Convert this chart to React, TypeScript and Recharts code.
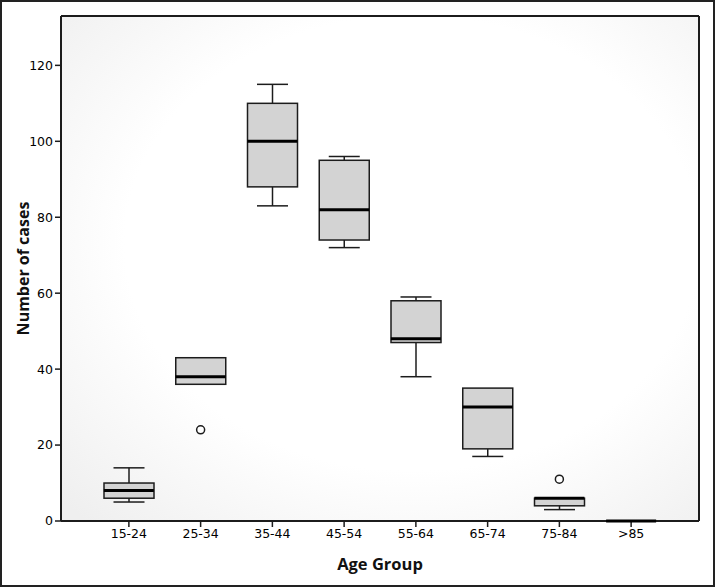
import React from "react";
import {
  ComposedChart,
  Bar,
  Scatter,
  XAxis,
  YAxis,
  CartesianGrid,
} from "recharts";

// age groups and the five-number summary for each
const categories = ["15-24", "25-34", "35-44", "45-54", "55-64", "65-74", "75-84", ">85"];
const minVals = [5, 36, 83, 72, 38, 17, 3, 0];
const q1Vals = [6, 36, 88, 74, 47, 19, 4, 0];
const medianVals = [8, 38, 100, 82, 48, 30, 6, 0];
const q3Vals = [10, 43, 110, 95, 58, 35, 6, 0];
const maxVals = [14, 43, 115, 96, 59, 35, 6, 0];
const outlierVals: (number | null)[] = [null, 24, null, null, null, null, 11, null];
const yTicks = [0, 20, 40, 60, 80, 100, 120];

const data = categories.map((cat, i) => ({
  cat,
  min: minVals[i],
  q1: q1Vals[i],
  median: medianVals[i],
  q3: q3Vals[i],
  max: maxVals[i],
  range: [minVals[i], maxVals[i]],
  outlier: outlierVals[i],
}));

const BOX_W = 50;
const CAP_W = 31;
const INK = "#1c1c1c";
const tickStyle = { fill: "#000", fontSize: 12.5, fontFamily: "DejaVu Sans" };

// whiskers + box, drawn from the [min, max] range bar
const BoxShape = (props: any) => {
  const { x, y, width, height, payload } = props;
  if (x == null || y == null || !payload) return <g />;
  const cx = x + width / 2;
  const span = payload.max - payload.min;
  const toPx = (v: number) => (span > 0 ? y + ((payload.max - v) / span) * height : y);
  const yMax = y;
  const yMin = y + height;
  const yQ3 = toPx(payload.q3);
  const yQ1 = toPx(payload.q1);
  return (
    <g>
      {payload.max > payload.q3 && (
        <g stroke={INK} strokeWidth={1.5}>
          <line x1={cx} x2={cx} y1={yMax} y2={yQ3} />
          <line x1={cx - CAP_W / 2} x2={cx + CAP_W / 2} y1={yMax} y2={yMax} />
        </g>
      )}
      {payload.min < payload.q1 && (
        <g stroke={INK} strokeWidth={1.5}>
          <line x1={cx} x2={cx} y1={yQ1} y2={yMin} />
          <line x1={cx - CAP_W / 2} x2={cx + CAP_W / 2} y1={yMin} y2={yMin} />
        </g>
      )}
      <rect
        x={cx - BOX_W / 2}
        y={yQ3}
        width={BOX_W}
        height={Math.max(yQ1 - yQ3, 0)}
        fill="#d3d3d3"
        stroke={INK}
        strokeWidth={1.5}
      />
    </g>
  );
};

const MedianShape = (props: any) => {
  const { cx, cy } = props;
  if (cx == null || cy == null || isNaN(cy)) return <g />;
  return <line x1={cx - BOX_W / 2} x2={cx + BOX_W / 2} y1={cy} y2={cy} stroke="#000" strokeWidth={3} />;
};

const OutlierShape = (props: any) => {
  const { cx, cy, payload } = props;
  if (!payload || payload.outlier == null || cy == null || isNaN(cy)) return <g />;
  return <circle cx={cx} cy={cy} r={4} fill="#fff" stroke={INK} strokeWidth={1.5} />;
};

export default function App() {
  return (
    <div style={{ position: "absolute", left: 0, top: 0, width: 716, height: 587, background: "#fff" }}>
      <div
        style={{
          position: "absolute",
          left: 0,
          top: 0,
          width: 715,
          height: 587,
          border: "2px solid #222",
          boxSizing: "border-box",
        }}
      />
      <ComposedChart
        width={716}
        height={587}
        data={data}
        margin={{ top: 15, right: 16, bottom: 16, left: 6 }}
        style={{ position: "absolute", left: 0, top: 0 }}
      >
        <defs>
          <radialGradient id="plotBg" cx="55%" cy="45%" r="75%">
            <stop offset="60%" stopColor="#ffffff" />
            <stop offset="100%" stopColor="#efefef" />
          </radialGradient>
        </defs>
        <CartesianGrid horizontal={false} vertical={false} fill="url(#plotBg)" />
        <XAxis
          dataKey="cat"
          height={50}
          padding={{ left: 32, right: 32 }}
          tick={tickStyle}
          tickSize={6}
          tickLine={{ stroke: INK, strokeWidth: 1.5 }}
          axisLine={{ stroke: INK, strokeWidth: 2 }}
          label={{
            content: ({ viewBox }: any) => (
              <text
                x={viewBox.x + viewBox.width / 2}
                y={viewBox.y + 42}
                textAnchor="middle"
                dominantBaseline="central"
                fontFamily="Open Sans"
                fontWeight={700}
                fontSize={16.5}
                fill="#111"
              >
                Age Group
              </text>
            ),
          }}
        />
        <XAxis
          xAxisId="top"
          dataKey="cat"
          orientation="top"
          height={1}
          padding={{ left: 32, right: 32 }}
          tick={false}
          tickLine={false}
          axisLine={{ stroke: INK, strokeWidth: 2 }}
        />
        <YAxis
          width={55}
          domain={[0, 133]}
          ticks={yTicks}
          tick={tickStyle}
          tickSize={6}
          tickLine={{ stroke: INK, strokeWidth: 1.5 }}
          axisLine={{ stroke: INK, strokeWidth: 2 }}
          label={{
            content: ({ viewBox }: any) => {
              const lx = viewBox.x + 17;
              const ly = viewBox.y + viewBox.height / 2;
              return (
                <text
                  x={lx}
                  y={ly}
                  transform={`rotate(-90, ${lx}, ${ly})`}
                  textAnchor="middle"
                  dominantBaseline="central"
                  fontFamily="Open Sans"
                  fontWeight={700}
                  fontSize={16}
                  fill="#111"
                >
                  Number of cases
                </text>
              );
            },
          }}
        />
        <YAxis
          yAxisId="right"
          orientation="right"
          width={1}
          domain={[0, 133]}
          tick={false}
          tickLine={false}
          axisLine={{ stroke: INK, strokeWidth: 2 }}
        />
        <Bar dataKey="range" barSize={BOX_W} shape={BoxShape} isAnimationActive={false} />
        <Scatter dataKey="median" shape={MedianShape} isAnimationActive={false} />
        <Scatter dataKey="outlier" shape={OutlierShape} isAnimationActive={false} />
      </ComposedChart>
    </div>
  );
}
